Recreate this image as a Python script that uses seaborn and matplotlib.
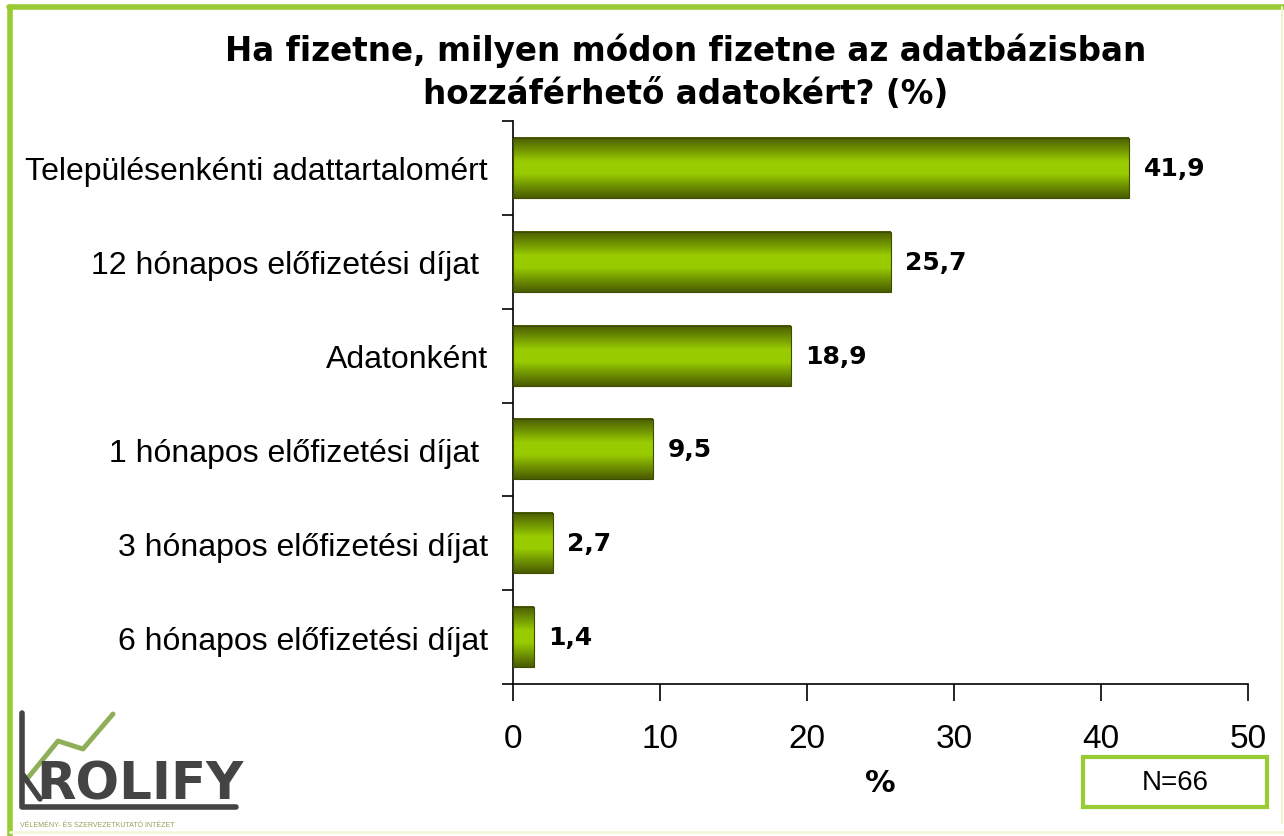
import matplotlib
matplotlib.use('Agg')
import matplotlib.pyplot as plt
import seaborn as sns
import pandas as pd
import numpy as np
from matplotlib.colors import LinearSegmentedColormap
from matplotlib.patches import Rectangle
from matplotlib.lines import Line2D

categories = [
    'Településenkénti adattartalomért',
    '12 hónapos előfizetési díjat ',
    'Adatonként',
    '1 hónapos előfizetési díjat ',
    '3 hónapos előfizetési díjat',
    '6 hónapos előfizetési díjat',
]
values = [41.9, 25.7, 18.9, 9.5, 2.7, 1.4]
value_labels = ['41,9', '25,7', '18,9', '9,5', '2,7', '1,4']
x_ticks = [0, 10, 20, 30, 40, 50]

df = pd.DataFrame({'cat': categories, 'val': values})

sns.set_style('white')
plt.rcParams['font.family'] = ['Liberation Sans', 'DejaVu Sans']
plt.rcParams['text.color'] = 'black'
plt.rcParams['xtick.color'] = 'black'
plt.rcParams['ytick.color'] = 'black'
plt.rcParams['axes.labelcolor'] = 'black'

W, H = 1284, 837
fig = plt.figure(figsize=(W / 100, H / 100), dpi=100)
fig.patch.set_facecolor('white')


def fx(px):
    return px / W


def fy(py):
    return 1 - py / H


ax = fig.add_axes([fx(513), fy(685), fx(1248) - fx(513), fy(122) - fy(685)])
sns.barplot(data=df, y='cat', x='val', orient='h', width=0.64, color='#99cc00', ax=ax)

# gradient fill on every bar (dark edges, bright middle)
cmap = LinearSegmentedColormap.from_list(
    'bar', ['#4a5c00', '#6f9200', '#99cc00', '#99cc00', '#6f9200', '#4a5c00'])
grad = np.linspace(0, 1, 200).reshape(-1, 1)
for p in ax.patches:
    x0, y0 = p.get_x(), p.get_y()
    w, h = p.get_width(), p.get_height()
    ax.imshow(grad, extent=[x0, x0 + w, y0 + h, y0], aspect='auto', cmap=cmap,
              interpolation='bicubic', zorder=2)
    p.set_facecolor('none')
    p.set_edgecolor('#3f4d00')
    p.set_linewidth(0.8)
    p.set_zorder(3)

for i, (v, lab) in enumerate(zip(values, value_labels)):
    ax.text(v + 1.0, i, lab, va='center', ha='left', fontsize=18,
            fontweight='bold', family='DejaVu Sans', color='black')

ax.set_xlim(0, 50)
ax.set_ylim(5.5, -0.5)
ax.set_xticks(x_ticks)
ax.set_xticklabels([str(t) for t in x_ticks], fontsize=24)
ax.set_yticks(range(len(categories)))
ax.set_yticklabels(categories, fontsize=23)
ax.set_yticks(np.arange(-0.5, 6, 1), minor=True)
ax.tick_params(axis='y', which='major', left=True, length=0, pad=18)
ax.tick_params(axis='y', which='minor', left=True, length=8, width=1.2, color='black',
               direction='out')
ax.tick_params(axis='x', bottom=True, length=12, width=1.2, color='black', direction='out',
               pad=16)
ax.set_ylabel('')
ax.set_xlabel('%', fontsize=22, fontweight='bold', family='DejaVu Sans', labelpad=10)
for side in ['top', 'right']:
    ax.spines[side].set_visible(False)
for side in ['left', 'bottom']:
    ax.spines[side].set_color('black')
    ax.spines[side].set_linewidth(1.2)
ax.set_facecolor('white')

# title
fig.text(fx(686), fy(33), 'Ha fizetne, milyen módon fizetne az adatbázisban\nhozzáférhető adatokért? (%)',
         ha='center', va='top', fontsize=23.5, fontweight='bold', family='DejaVu Sans',
         linespacing=1.42)

# N box
fig.patches.append(Rectangle((fx(1083), fy(808)), fx(1267) - fx(1083), fy(758) - fy(808),
                             transform=fig.transFigure, facecolor='white',
                             edgecolor='#99cc33', linewidth=3))
fig.text(fx(1175), fy(783), 'N=66', ha='center', va='center', fontsize=20)

# frame around the slide
fig.add_artist(Line2D([fx(9), fx(1284)], [fy(8), fy(8)], color='#99cc33', lw=4,
                      transform=fig.transFigure))
fig.add_artist(Line2D([fx(10), fx(10)], [fy(8), fy(837)], color='#99cc33', lw=4,
                      transform=fig.transFigure))
fig.add_artist(Line2D([fx(1282), fx(1282)], [fy(8), fy(824)], color='#eef6cc', lw=1.5,
                      transform=fig.transFigure))
fig.add_artist(Line2D([fx(10), fx(1284)], [fy(833), fy(833)], color='#f3f8d8', lw=2,
                      transform=fig.transFigure))

# logo
fig.add_artist(Line2D([fx(27), fx(58), fx(83), fx(113)], [fy(780), fy(742), fy(750), fy(715)],
                      color='#8fae5a', lw=3.5, transform=fig.transFigure))
fig.add_artist(Line2D([fx(22), fx(22), fx(236)], [fy(714), fy(808), fy(808)],
                      color='#444444', lw=4, transform=fig.transFigure))
fig.add_artist(Line2D([fx(23), fx(40)], [fy(776), fy(800)],
                      color='#444444', lw=4, transform=fig.transFigure))
fig.text(fx(36), fy(800), 'ROLIFY', ha='left', va='baseline', fontsize=37,
         color='#444444', fontweight='bold', family='Liberation Sans Narrow')
fig.text(fx(20), fy(826), 'VÉLEMÉNY- ÉS SZERVEZETKUTATÓ INTÉZET', ha='left', va='center',
         fontsize=5, color='#8fa35a')

fig.savefig('out.png', dpi=100, facecolor='white')
